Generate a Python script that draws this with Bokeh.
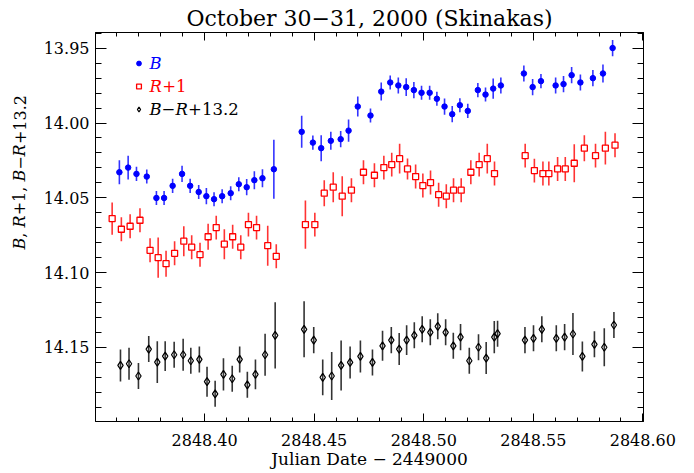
import numpy as np
from bokeh.plotting import figure
from bokeh.layouts import row
from bokeh.models import (Range1d, LinearAxis, SingleIntervalTicker, NumeralTickFormatter,
                          Label, Legend, LegendItem, ColumnDataSource, Grid)
from bokeh.core.properties import value
from bokeh.embed import file_html
from bokeh.resources import INLINE

# ---------------- data ----------------
b_jd = [2848.3611, 2848.3651, 2848.3689, 2848.3736, 2848.3780, 2848.3815, 2848.3854, 2848.3897,
        2848.3934, 2848.3973, 2848.4008, 2848.4043, 2848.4080, 2848.4119, 2848.4156, 2848.4192,
        2848.4227, 2848.4264, 2848.4316,
        2848.4443, 2848.4494, 2848.4532, 2848.4576, 2848.4621, 2848.4657, 2848.4699, 2848.4757,
        2848.4806, 2848.4847, 2848.4884, 2848.4920, 2848.4955, 2848.4990, 2848.5027, 2848.5060,
        2848.5095, 2848.5130, 2848.5165, 2848.5201, 2848.5247, 2848.5282, 2848.5317, 2848.5352,
        2848.5457, 2848.5497, 2848.5535, 2848.5602, 2848.5638, 2848.5675, 2848.5715, 2848.5772,
        2848.5818, 2848.5862]
b_mag = [14.0329, 14.0298, 14.0340, 14.0358, 14.0501, 14.0501, 14.0420, 14.0340,
         14.0420, 14.0461, 14.0489, 14.0509, 14.0489, 14.0469, 14.0409, 14.0429,
         14.0382, 14.0369, 14.0309,
         14.0059, 14.0131, 14.0168, 14.0119, 14.0108, 14.0051, 13.9890, 13.9950,
         13.9790, 13.9729, 13.9749, 13.9760, 13.9780, 13.9798, 13.9798, 13.9838,
         13.9890, 13.9941, 13.9881, 13.9919, 13.9780, 13.9810, 13.9770, 13.9749,
         13.9669, 13.9760, 13.9720, 13.9749, 13.9740, 13.9680, 13.9729, 13.9700,
         13.9669, 13.9499]
b_err = [0.0080, 0.0080, 0.0047, 0.0047, 0.0047, 0.0047, 0.0047, 0.0054,
         0.0047, 0.0047, 0.0054, 0.0047, 0.0047, 0.0047, 0.0047, 0.0054,
         0.0060, 0.0060, 0.0197,
         0.0107, 0.0047, 0.0087, 0.0060, 0.0054, 0.0074, 0.0067, 0.0047,
         0.0060, 0.0047, 0.0054, 0.0060, 0.0054, 0.0047, 0.0047, 0.0047,
         0.0054, 0.0054, 0.0047, 0.0047, 0.0047, 0.0047, 0.0067, 0.0054,
         0.0054, 0.0054, 0.0047, 0.0054, 0.0054, 0.0054, 0.0054, 0.0054,
         0.0060, 0.0054]

r_jd = [2848.3578, 2848.3620, 2848.3660, 2848.3705, 2848.3751, 2848.3788, 2848.3824, 2848.3863,
        2848.3905, 2848.3941, 2848.3979, 2848.4016, 2848.4053, 2848.4090, 2848.4128, 2848.4165,
        2848.4200, 2848.4237, 2848.4288, 2848.4327,
        2848.4460, 2848.4503, 2848.4546, 2848.4587, 2848.4628, 2848.4670, 2848.4725, 2848.4775,
        2848.4818, 2848.4854, 2848.4890, 2848.4926, 2848.4963, 2848.4996, 2848.5031, 2848.5068,
        2848.5103, 2848.5136, 2848.5171, 2848.5215, 2848.5253, 2848.5290, 2848.5323,
        2848.5463, 2848.5505, 2848.5544, 2848.5571, 2848.5611, 2848.5646, 2848.5687, 2848.5733,
        2848.5784, 2848.5829, 2848.5873]
r_mag = [14.0639, 14.0710, 14.0690, 14.0650, 14.0851, 14.0900, 14.0940, 14.0871,
         14.0790, 14.0830, 14.0880, 14.0760, 14.0699, 14.0810, 14.0760, 14.0830,
         14.0679, 14.0699, 14.0820, 14.0891,
         14.0679, 14.0679, 14.0469, 14.0429, 14.0489, 14.0449, 14.0329, 14.0349,
         14.0298, 14.0278, 14.0238, 14.0307, 14.0358, 14.0418, 14.0398, 14.0479,
         14.0489, 14.0449, 14.0449, 14.0329, 14.0278, 14.0238, 14.0338,
         14.0218, 14.0318, 14.0338, 14.0338, 14.0307, 14.0307, 14.0269, 14.0168,
         14.0218, 14.0168, 14.0148]
r_err = [0.0107, 0.0080, 0.0080, 0.0080, 0.0080, 0.0134, 0.0087, 0.0080,
         0.0100, 0.0080, 0.0080, 0.0087, 0.0080, 0.0100, 0.0080, 0.0080,
         0.0080, 0.0080, 0.0134, 0.0080,
         0.0161, 0.0080, 0.0087, 0.0100, 0.0134, 0.0080, 0.0080, 0.0080,
         0.0080, 0.0080, 0.0100, 0.0070, 0.0080, 0.0080, 0.0080, 0.0080,
         0.0080, 0.0080, 0.0080, 0.0080, 0.0080, 0.0100, 0.0080,
         0.0080, 0.0080, 0.0080, 0.0080, 0.0080, 0.0080, 0.0127, 0.0087,
         0.0080, 0.0110, 0.0080]

c_jd = [2848.3616, 2848.3655, 2848.3698, 2848.3745, 2848.3784, 2848.3820, 2848.3861, 2848.3902,
        2848.3937, 2848.3976, 2848.4011, 2848.4048, 2848.4086, 2848.4126, 2848.4160, 2848.4195,
        2848.4232, 2848.4276, 2848.4322,
        2848.4454, 2848.4498, 2848.4539, 2848.4580, 2848.4623, 2848.4664, 2848.4711, 2848.4766,
        2848.4812, 2848.4852, 2848.4888, 2848.4922, 2848.4957, 2848.4993, 2848.5030, 2848.5064,
        2848.5100, 2848.5135, 2848.5168, 2848.5208, 2848.5250, 2848.5285, 2848.5322, 2848.5337,
        2848.5462, 2848.5501, 2848.5539, 2848.5605, 2848.5643, 2848.5681, 2848.5724, 2848.5779,
        2848.5824, 2848.5868]
c_mag = [14.1620, 14.1609, 14.1691, 14.1511, 14.1598, 14.1558, 14.1549, 14.1549,
         14.1589, 14.1580, 14.1729, 14.1810, 14.1680, 14.1709, 14.1580, 14.1750,
         14.1680, 14.1549, 14.1419,
         14.1379, 14.1451, 14.1700, 14.1691, 14.1620, 14.1600, 14.1560, 14.1600,
         14.1489, 14.1451, 14.1511, 14.1451, 14.1419, 14.1379, 14.1399, 14.1359,
         14.1399, 14.1489, 14.1431, 14.1589, 14.1499, 14.1571, 14.1431, 14.1408,
         14.1451, 14.1439, 14.1379, 14.1439, 14.1431, 14.1410, 14.1560, 14.1479,
         14.1499, 14.1350]
c_err = [0.0107, 0.0107, 0.0087, 0.0087, 0.0140, 0.0100, 0.0087, 0.0107,
         0.0087, 0.0087, 0.0100, 0.0087, 0.0107, 0.0087, 0.0087, 0.0087,
         0.0100, 0.0140, 0.0221,
         0.0187, 0.0087, 0.0120, 0.0161, 0.0167, 0.0107, 0.0107, 0.0087,
         0.0100, 0.0087, 0.0107, 0.0100, 0.0087, 0.0087, 0.0087, 0.0087,
         0.0087, 0.0087, 0.0087, 0.0087, 0.0087, 0.0107, 0.0107, 0.0087,
         0.0087, 0.0087, 0.0087, 0.0087, 0.0087, 0.0140, 0.0100, 0.0087,
         0.0127, 0.0087]

title_text = "October 30\u221231, 2000 (Skinakas)"
xlabel_text = "Julian Date \u2212 2449000"
# y-axis label pieces: (text, style, advance in px at 16px)
ylabel_parts = [("B", "italic", 11.7), (", ", "normal", 10.2), ("R", "italic", 12.3),
                ("+1, ", "normal", 33.8), ("B", "italic", 11.7), ("\u2212", "normal", 13.4),
                ("R", "italic", 12.3), ("+13.2", "normal", 49.0)]

# ---------------- figure ----------------
FONT = "DejaVu Serif"
OFF = 1            # observed page offset of the canvas in the screenshot
LW = 30            # width of the strip that holds the y-axis label
W, H = 660, 472
ML, MT, FW, FH = 95 - LW, 32, 548, 389
MR, MB = W - ML - FW, H - MT - FH

p = figure(width=W, height=H, output_backend="svg", toolbar_location=None,
           x_range=Range1d(2848.3502, 2848.6003), y_range=Range1d(14.1995, 13.9395),
           x_axis_location=None, y_axis_location=None,
           min_border_left=ML, min_border_right=MR, min_border_top=MT, min_border_bottom=MB)
p.outline_line_color = "black"
p.outline_line_width = 1
p.background_fill_color = "white"
p.border_fill_color = "white"
for g in p.select(type=Grid):
    g.visible = False


def make_axis(major_in, minor_in, show_labels, standoff):
    ax = LinearAxis(ticker=SingleIntervalTicker(interval=0.05, num_minor_ticks=5),
                    formatter=NumeralTickFormatter(format="0.00"))
    ax.major_tick_in = major_in
    ax.major_tick_out = 0
    ax.minor_tick_in = minor_in
    ax.minor_tick_out = 0
    ax.axis_line_color = "black"
    ax.major_tick_line_color = "black"
    ax.minor_tick_line_color = "black"
    ax.major_label_standoff = standoff
    ax.axis_label_text_font = FONT
    ax.axis_label_text_font_style = "normal"
    ax.axis_label_text_color = "black"
    if show_labels:
        ax.major_label_text_font = FONT
        ax.major_label_text_font_size = "16px"
        ax.major_label_text_color = "black"
    else:
        ax.major_label_text_font_size = "0px"
        ax.major_label_text_alpha = 0
    return ax


ax_b = make_axis(8, 4, True, 12)
ax_b.axis_label = xlabel_text
ax_b.axis_label_text_font_size = "17px"
ax_b.axis_label_standoff = 0
p.add_layout(ax_b, "below")

ax_t = make_axis(8, 4, False, 0)
ax_t.axis_label = title_text
ax_t.axis_label_text_font_size = "22px"
ax_t.axis_label_standoff = 2
p.add_layout(ax_t, "above")

p.add_layout(make_axis(11, 6, True, 6), "left")
p.add_layout(make_axis(11, 6, False, 0), "right")

# ---------------- data glyphs ----------------
def errbars(jd, mag, err, color):
    jd = np.array(jd); mag = np.array(mag); err = np.array(err)
    src = ColumnDataSource(dict(x=jd, y0=mag - err, y1=mag + err))
    p.segment(x0="x", y0="y0", x1="x", y1="y1", source=src,
              line_color=color, line_width=1.6, line_alpha=0.8)

errbars(b_jd, b_mag, b_err, "blue")
errbars(r_jd, r_mag, r_err, "red")
errbars(c_jd, c_mag, c_err, "black")

rb = p.scatter(x=b_jd, y=b_mag, marker="circle", size=5.5, fill_color="blue", line_color="blue")
rr = p.scatter(x=r_jd, y=r_mag, marker="square", size=6, fill_color="white", line_color="red",
               line_width=1.3)
rc = p.scatter(x=c_jd, y=c_mag, marker="diamond", size=8, fill_color=None, line_color="black",
               line_width=1.2)

legend = Legend(items=[LegendItem(label=value(" "), renderers=[rb]),
                       LegendItem(label=value(" "), renderers=[rr]),
                       LegendItem(label=value(" "), renderers=[rc])],
                location="top_left", margin=25, padding=0, spacing=11,
                glyph_width=37, glyph_height=12, label_height=12, label_width=1,
                label_standoff=0, label_text_font_size="1px",
                border_line_color=None, background_fill_alpha=0)
p.add_layout(legend)

# ---------------- legend texts (inside the frame) ----------------
FRAME_L = OFF + LW + ML
FRAME_B = OFF + MT + FH


def add_text(fig, fl, fb, txt, px, py, size, color="black", style="normal", angle=0.0):
    fig.add_layout(Label(x=px - fl, y=fb - py, x_units="screen", y_units="screen",
                         text=txt, text_font=FONT, text_font_size=size,
                         text_font_style=style, text_color=color, text_align="left",
                         text_baseline="middle", angle=angle))


add_text(p, FRAME_L, FRAME_B, "B", 150, 64, "16.5px", color="blue", style="italic")
add_text(p, FRAME_L, FRAME_B, "R", 150, 86.5, "16.5px", color="red", style="italic")
add_text(p, FRAME_L, FRAME_B, "+1", 162.7, 86.5, "16.5px", color="red")
add_text(p, FRAME_L, FRAME_B, "B", 150, 109.5, "16.5px", style="italic")
add_text(p, FRAME_L, FRAME_B, "\u2212", 162.1, 109.5, "16.5px")
add_text(p, FRAME_L, FRAME_B, "R", 175.9, 109.5, "16.5px", style="italic")
add_text(p, FRAME_L, FRAME_B, "+13.2", 188.6, 109.5, "16.5px")

# ---------------- y-axis label strip ----------------
q = figure(width=LW, height=H, output_backend="svg", toolbar_location=None,
           x_range=Range1d(0, 1), y_range=Range1d(0, 1),
           x_axis_location=None, y_axis_location=None,
           min_border_left=0, min_border_right=0, min_border_top=0, min_border_bottom=0)
q.outline_line_color = None
q.background_fill_color = "white"
q.border_fill_color = "white"
for g in q.select(type=Grid):
    g.visible = False

yy = 301.0
for t, st, w in ylabel_parts:
    add_text(q, OFF, OFF + H, t, 20, yy, "16px", style=st, angle=np.pi / 2)
    yy -= w

layout = row(q, p, spacing=0)
open("out.html", "w").write(file_html(layout, INLINE))
